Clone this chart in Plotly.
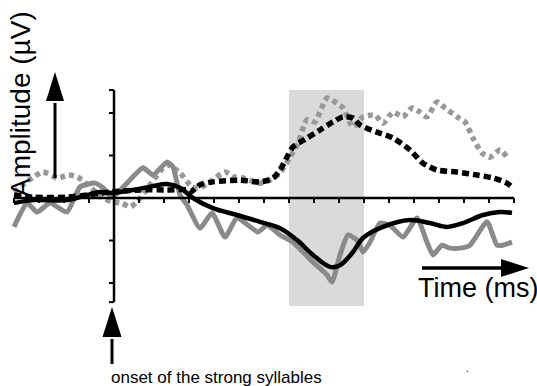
import plotly.graph_objects as go

# ---------------- data (time in ms, amplitude in µV) ----------------
grey_solid_t = [-200, -174, -154, -128, -94, -68, -38, -22, -4, 26, 58, 78, 106, 118, 132, 146, 172,
                196, 222, 246, 288, 306, 332, 358, 398, 426, 436, 452, 468, 486, 498, 512, 532, 552,
                578, 606, 626, 638, 656, 672, 692, 712, 746, 766, 778, 796]
grey_solid_v = [-0.68, -0.12, -0.33, -0.12, -0.33, 0.26, 0.35, 0.24, 0.02, 0.35, 0.71, 0.54, 0.85, 0.73,
                0.07, -0.16, -0.71, -0.35, -0.92, -0.47, -0.80, -0.64, -0.87, -1.04, -1.51, -1.81, -1.98,
                -1.34, -0.87, -0.99, -1.27, -1.04, -0.59, -0.64, -0.92, -0.47, -1.04, -1.34, -1.11, -1.18,
                -1.18, -1.11, -0.56, -1.11, -1.11, -1.04]

black_solid_t = [-200, -162, -94, -54, -28, -2, 38, 78, 106, 132, 158, 198, 246, 292, 332, 366, 398,
                 432, 452, 478, 498, 538, 592, 632, 666, 698, 738, 772, 796]
black_solid_v = [-0.12, -0.05, -0.05, 0.07, 0.14, 0.12, 0.19, 0.28, 0.33, 0.24, 0.0, -0.24, -0.40, -0.56,
                 -0.71, -0.99, -1.34, -1.62, -1.58, -1.27, -0.94, -0.68, -0.52, -0.59, -0.68, -0.59,
                 -0.40, -0.33, -0.35]

black_dash_t = [-200, -162, -94, -8, 52, 106, 146, 152, 172, 198, 252, 292, 318, 332, 346, 358, 386,
                412, 438, 458, 478, 492, 526, 558, 592, 618, 646, 686, 726, 758, 786, 798]
black_dash_v = [0.07, 0.02, 0.02, 0.14, 0.19, 0.19, 0.19, 0.14, 0.31, 0.38, 0.42, 0.38, 0.47, 0.66, 0.96,
                1.20, 1.41, 1.60, 1.79, 1.91, 1.88, 1.72, 1.55, 1.41, 1.13, 0.82, 0.66, 0.61, 0.54, 0.47,
                0.35, 0.24]

grey_dot_t = [-200, -162, -142, -112, -92, -72, -22, -4, 16, 32, 46, 72, 106, 132, 156, 172, 192, 222,
              242, 258, 292, 312, 332, 352, 368, 386, 402, 412, 426, 442, 458, 478, 498, 522, 538, 558,
              578, 596, 612, 626, 646, 662, 686, 702, 718, 736, 752, 772, 786]
grey_dot_v = [0.14, 0.49, 0.61, 0.47, 0.54, 0.49, 0.0, -0.09, -0.12, -0.21, -0.09, 0.31, 0.78, 0.59, 0.26,
              0.24, 0.38, 0.61, 0.49, 0.47, 0.35, 0.42, 0.59, 0.96, 1.29, 1.84, 1.79, 2.02, 2.35, 2.26,
              2.12, 1.67, 1.91, 1.95, 1.76, 2.02, 1.91, 2.12, 2.02, 1.91, 2.26, 2.12, 1.91, 1.79, 1.41,
              1.06, 0.96, 1.13, 0.96]

window_ms = [350, 500]
x_ticks = list(range(-200, 801, 50))
y_ticks = [-2.45, -2, -1, 1, 2, 2.54]
axis_x = [-200, 800]
axis_y = [-2.45, 2.54]

W, H = 537, 386


def px(x):
    return x / W


def py(y):
    return 1 - y / H


fig = go.Figure()

fig.add_trace(go.Scatter(x=grey_dot_t, y=grey_dot_v, mode="lines",
                         line=dict(color="#999999", width=5.5, dash="5px,4px", shape="spline", smoothing=0.6)))
fig.add_trace(go.Scatter(x=grey_solid_t, y=grey_solid_v, mode="lines",
                         line=dict(color="#8a8a8a", width=5, shape="spline", smoothing=0.5)))
fig.add_trace(go.Scatter(x=black_dash_t, y=black_dash_v, mode="lines",
                         line=dict(color="#000000", width=5.5, dash="7px,4px", shape="spline", smoothing=0.8)))
fig.add_trace(go.Scatter(x=black_solid_t, y=black_solid_v, mode="lines",
                         line=dict(color="#000000", width=4.5, shape="spline", smoothing=1.0)))

shapes = []
# shaded analysis window
shapes.append(dict(type="rect", xref="x", yref="y", x0=window_ms[0], x1=window_ms[1], y0=-2.54, y1=2.54,
                   fillcolor="#dadada", line=dict(width=0), layer="below"))
# axes
shapes.append(dict(type="line", xref="x", yref="y", x0=axis_x[0], x1=axis_x[1], y0=0, y1=0,
                   line=dict(color="black", width=2.5)))
shapes.append(dict(type="line", xref="x", yref="y", x0=0, x1=0, y0=axis_y[0], y1=axis_y[1],
                   line=dict(color="black", width=2.5)))
for t in x_ticks:
    if t == 0:
        continue
    shapes.append(dict(type="line", xref="x", yref="y", x0=t, x1=t, y0=0, y1=-0.12,
                       line=dict(color="black", width=2)))
for v in y_ticks:
    shapes.append(dict(type="line", xref="x", yref="y", x0=0, x1=-10, y0=v, y1=v,
                       line=dict(color="black", width=2)))

# arrows (decorations in pixel -> paper coords)
def arrow_up(x, y_tip, y_base, y_tail, half):
    shapes.append(dict(type="line", xref="paper", yref="paper", x0=px(x), x1=px(x), y0=py(y_tail),
                       y1=py(y_base + 2), line=dict(color="black", width=3)))
    path = "M {},{} L {},{} L {},{} Z".format(px(x), py(y_tip), px(x - half), py(y_base),
                                            px(x + half), py(y_base))
    shapes.append(dict(type="path", xref="paper", yref="paper", path=path, fillcolor="black",
                       line=dict(width=0)))


arrow_up(55, 72, 101, 178, 9)
arrow_up(112, 307, 337, 364, 9.5)
# right arrow for time
shapes.append(dict(type="line", xref="paper", yref="paper", x0=px(422), x1=px(504), y0=py(268), y1=py(268),
                   line=dict(color="black", width=3.5)))
shapes.append(dict(type="path", xref="paper", yref="paper",
                   path="M {},{} L {},{} L {},{} Z".format(px(529), py(268), px(501), py(259), px(501), py(277)),
                   fillcolor="black", line=dict(width=0)))

font = "Liberation Sans, Arial, sans-serif"
annotations = [
    dict(text="Amplitude (µV)", xref="paper", yref="paper", x=px(20), y=py(104), textangle=-90,
         showarrow=False, xanchor="center", yanchor="middle", font=dict(family=font, size=28, color="black")),
    dict(text="Time (ms)", xref="paper", yref="paper", x=px(416), y=py(288), showarrow=False,
         xanchor="left", yanchor="middle", font=dict(family=font, size=27, color="black")),
    dict(text="onset of the strong syllables", xref="paper", yref="paper", x=px(109), y=py(377),
         showarrow=False, xanchor="left", yanchor="middle", font=dict(family=font, size=17, color="black")),
    dict(text=".", xref="paper", yref="paper", x=px(467), y=py(368), showarrow=False,
         xanchor="center", yanchor="middle", font=dict(family=font, size=10, color="black")),
]

fig.update_layout(
    width=W, height=H, margin=dict(l=0, r=0, t=0, b=0),
    paper_bgcolor="white", plot_bgcolor="white", showlegend=False,
    xaxis=dict(range=[-228, 846], visible=False, showgrid=False, zeroline=False),
    yaxis=dict(range=[(198 - 386) / 42.5, 198 / 42.5], visible=False, showgrid=False, zeroline=False),
    shapes=shapes, annotations=annotations,
)

fig.write_html("out.html")
